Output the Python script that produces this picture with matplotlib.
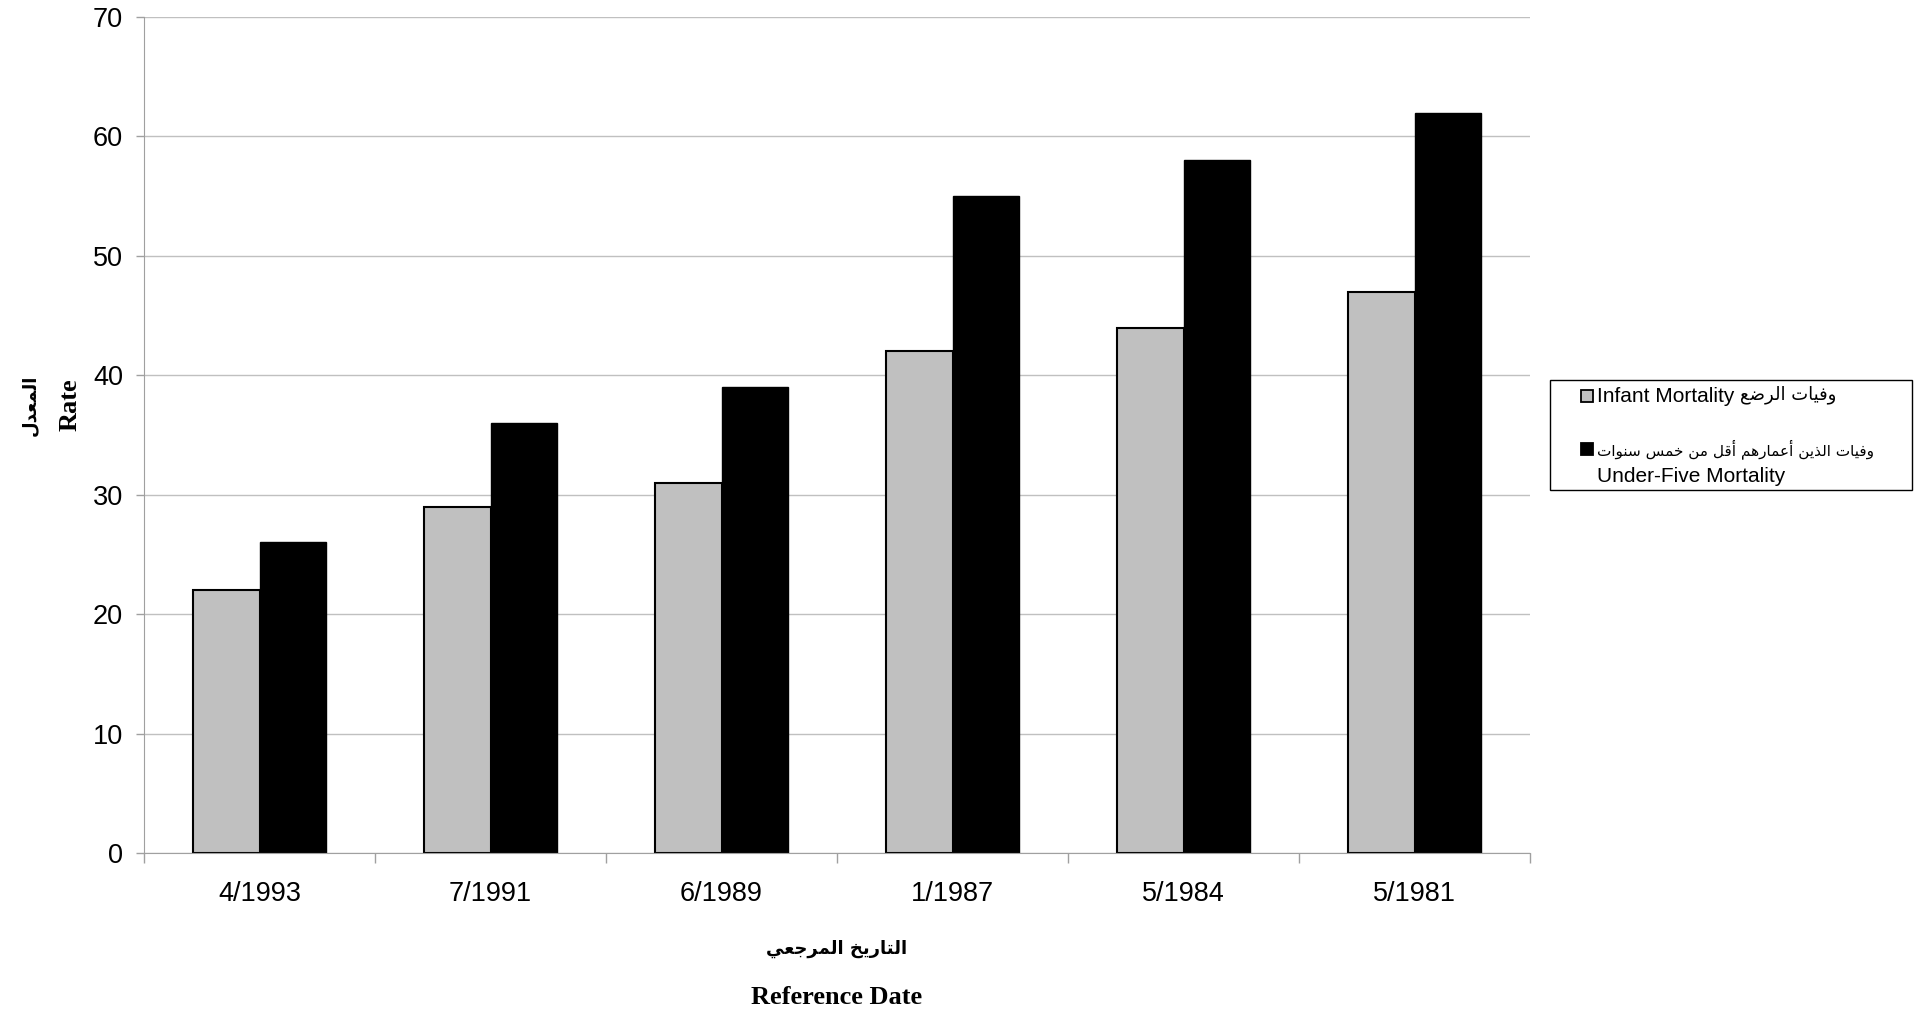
import matplotlib
matplotlib.use("Agg")
import matplotlib.pyplot as plt
from matplotlib.patches import Rectangle
import numpy as np

# data
dates = ["4/1993", "7/1991", "6/1989", "1/1987", "5/1984", "5/1981"]
infant = [22, 29, 31, 42, 44, 47]
under_five = [26, 36, 39, 55, 58, 62]

yticks = [0, 10, 20, 30, 40, 50, 60, 70]

infant_ar = "وفيات الرضع"
infant_en = "Infant Mortality"
under_five_ar = "وفيات الذين أعمارهم أقل من خمس سنوات"
under_five_en = "Under-Five Mortality"
xlabel_ar = "التاريخ المرجعي"
xlabel_en = "Reference Date"
ylabel_ar = "المعدل"
ylabel_en = "Rate"

W, H = 1919, 1011

# presentation forms: isolated, final, initial, medial
AR_FORMS = {
    "ا": ("\uFE8D", "\uFE8E", None, None),
    "أ": ("\uFE83", "\uFE84", None, None),
    "ت": ("\uFE95", "\uFE96", "\uFE97", "\uFE98"),
    "ج": ("\uFE9D", "\uFE9E", "\uFE9F", "\uFEA0"),
    "خ": ("\uFEA5", "\uFEA6", "\uFEA7", "\uFEA8"),
    "د": ("\uFEA9", "\uFEAA", None, None),
    "ذ": ("\uFEAB", "\uFEAC", None, None),
    "ر": ("\uFEAD", "\uFEAE", None, None),
    "س": ("\uFEB1", "\uFEB2", "\uFEB3", "\uFEB4"),
    "ض": ("\uFEBD", "\uFEBE", "\uFEBF", "\uFEC0"),
    "ع": ("\uFEC9", "\uFECA", "\uFECB", "\uFECC"),
    "ف": ("\uFED1", "\uFED2", "\uFED3", "\uFED4"),
    "ق": ("\uFED5", "\uFED6", "\uFED7", "\uFED8"),
    "ل": ("\uFEDD", "\uFEDE", "\uFEDF", "\uFEE0"),
    "م": ("\uFEE1", "\uFEE2", "\uFEE3", "\uFEE4"),
    "ن": ("\uFEE5", "\uFEE6", "\uFEE7", "\uFEE8"),
    "ه": ("\uFEE9", "\uFEEA", "\uFEEB", "\uFEEC"),
    "و": ("\uFEED", "\uFEEE", None, None),
    "ي": ("\uFEF1", "\uFEF2", "\uFEF3", "\uFEF4"),
}


def shape_arabic(text):
    # join letters and flip to visual order (matplotlib draws left to right)
    out = []
    for i, ch in enumerate(text):
        if ch not in AR_FORMS:
            out.append(ch)
            continue
        forms = AR_FORMS[ch]
        prev = text[i - 1] if i > 0 else ""
        nxt = text[i + 1] if i + 1 < len(text) else ""
        joins_prev = prev in AR_FORMS and AR_FORMS[prev][2] is not None
        joins_next = forms[2] is not None and nxt in AR_FORMS
        if joins_prev and joins_next:
            out.append(forms[3])
        elif joins_prev:
            out.append(forms[1])
        elif joins_next:
            out.append(forms[2])
        else:
            out.append(forms[0])
    return "".join(reversed(out))


def fx(px):
    return px / W


def fy(py):
    return 1 - py / H


SANS = ["Liberation Sans", "DejaVu Sans"]
SERIF = ["Liberation Serif", "DejaVu Sans"]
GRID = "#C0C0C0"
AXIS = "#A0A0A0"

fig = plt.figure(figsize=(W / 100, H / 100), dpi=100)
ax = fig.add_axes([fx(144), fy(853), fx(1530 - 144), (853 - 17) / H])

x = np.arange(len(dates))
width = 0.29
ax.bar(x - width / 2, infant, width, color="#C0C0C0", edgecolor="black", linewidth=1.5, zorder=3)
ax.bar(x + width / 2, under_five, width, color="black", edgecolor="black", linewidth=1.0, zorder=3)

ax.set_xlim(-0.5, len(dates) - 0.5)
ax.set_ylim(0, 70)
ax.set_yticks(yticks)
ax.set_yticklabels([str(v) for v in yticks], fontfamily=SANS, fontsize=19.5)
ax.set_xticks(x)
ax.set_xticklabels(dates, fontfamily=SANS, fontsize=19.5)
ax.set_xticks(np.arange(-0.5, len(dates)), minor=True)

ax.tick_params(axis="x", which="major", length=0, pad=20)
ax.tick_params(axis="x", which="minor", length=7, width=1, color=AXIS)
ax.tick_params(axis="y", which="major", length=6, width=1, color=AXIS, pad=9)

ax.yaxis.grid(True, color=GRID, linewidth=1, zorder=0)
ax.set_axisbelow(True)
for side in ["top", "right"]:
    ax.spines[side].set_visible(False)
ax.spines["left"].set_color(AXIS)
ax.spines["bottom"].set_color(AXIS)
ax.spines["bottom"].set_zorder(4)

# axis titles
fig.text(fx(837), fy(949), shape_arabic(xlabel_ar), ha="center", va="center",
         fontfamily=["DejaVu Sans"], fontweight="bold", fontsize=13)
fig.text(fx(837), fy(997), xlabel_en, ha="center", va="center",
         fontfamily=SERIF, fontweight="bold", fontsize=19)
fig.text(fx(30), fy(405), shape_arabic(ylabel_ar), ha="center", va="center", rotation=90,
         fontfamily=["DejaVu Sans"], fontweight="bold", fontsize=13)
fig.text(fx(70), fy(405), ylabel_en, ha="center", va="center", rotation=90,
         fontfamily=SERIF, fontweight="bold", fontsize=19)

# legend box drawn by hand
fig.patches.append(Rectangle((fx(1550), fy(490)), fx(1912 - 1550), 110 / H,
                             transform=fig.transFigure, facecolor="white",
                             edgecolor="black", linewidth=1))
fig.patches.append(Rectangle((fx(1581), fy(402)), fx(12), 12 / H,
                             transform=fig.transFigure, facecolor="#C0C0C0",
                             edgecolor="black", linewidth=1.3))
fig.patches.append(Rectangle((fx(1581), fy(455)), fx(12), 12 / H,
                             transform=fig.transFigure, facecolor="black",
                             edgecolor="black", linewidth=1.3))
fig.text(fx(1597), fy(396), infant_en, ha="left", va="center",
         fontfamily=SANS, fontsize=15)
fig.text(fx(1740), fy(395), shape_arabic(infant_ar), ha="left", va="center",
         fontfamily=["DejaVu Sans"], fontsize=13)
fig.text(fx(1597), fy(449), shape_arabic(under_five_ar), ha="left", va="center",
         fontfamily=["DejaVu Sans"], fontsize=11)
fig.text(fx(1597), fy(476), under_five_en, ha="left", va="center",
         fontfamily=SANS, fontsize=15)

fig.savefig("out.png", dpi=100)
